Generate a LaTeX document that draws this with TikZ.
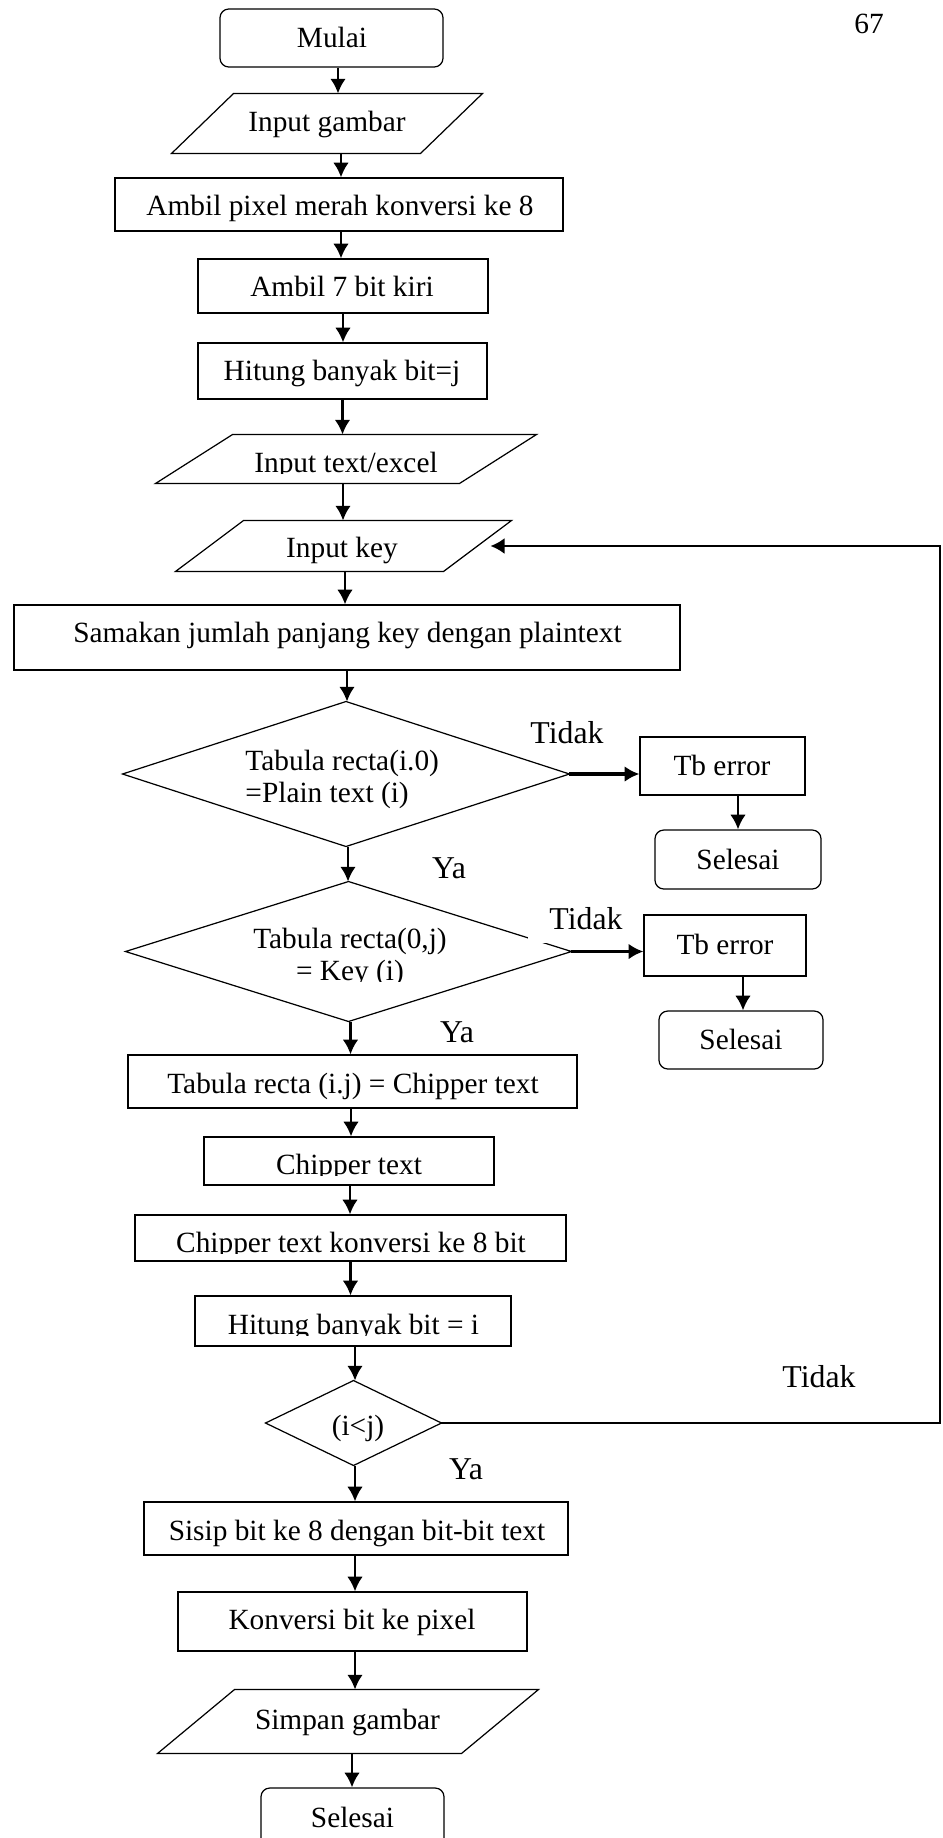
\documentclass[tikz,border=0pt]{standalone}
\usepackage{fontspec}
\setmainfont{Liberation Serif}
\usetikzlibrary{fit,calc,arrows.meta}

% vertical connector from the bottom of #2 (shifted by #1) down to the top of #3
\newcommand\vlink[3][0]{\draw[arr] ($(#2.south)+(#1,0)$) coordinate (vl) -- (vl |- #3.north);}

\begin{document}
\begin{tikzpicture}[x={(0.409pt,0)}, y={(0,-0.409pt)},
  box/.style={draw, line width=0.5pt, inner sep=0pt},
  term/.style={box, rounded corners=3.6pt},
  hull/.style={inner sep=0pt},
  outline/.style={draw, line width=0.5pt, line join=miter},
  txt/.style={inner sep=0pt, anchor=base, font=\fontsize{12}{14}\selectfont},
  lbl/.style={inner sep=0pt, anchor=base, font=\fontsize{13}{15}\selectfont},
  arr/.style={line width=1.1pt, -{Latex[length=6pt,width=6.4pt]}},
  arrb/.style={line width=1.5pt, -{Latex[length=6pt,width=6.4pt]}},
  back/.style={line width=0.9pt, -{Latex[length=5.8pt,width=6.6pt]}},
]
\fill[white] (0,0) rectangle (942,1838);
\useasboundingbox (0,0) rectangle (942,1838);

% page number
\node[txt] (t67) at (869,33) {67};

% ---------- main column ----------
\node[term, fit={(220,9) (443,67)}] (mulai) {};
\node[txt] (tmulai) at (332,47) {Mulai};

\node[hull, fit={(172,94) (482,153)}] (ig) {};
\draw[outline] ($(ig.north west)+(62,0)$) -- (ig.north east) -- ($(ig.south east)-(62,0)$) -- (ig.south west) -- cycle;
\node[txt] (tig) at (327,131) {Input gambar};

\node[box, fit={(115,178) (563,231)}] (apm) {};
\node[txt] (tapm) at (340,215) {Ambil pixel merah konversi ke 8};

\node[box, fit={(198,259) (488,313)}] (a7) {};
\node[txt] (ta7) at (342,296) {Ambil 7 bit kiri};

\node[box, fit={(198,343) (487,399)}] (hj) {};
\node[txt] (thj) at (342,380) {Hitung banyak bit=j};

\node[hull, fit={(156,435) (536,483)}] (it) {};
\draw[outline] ($(it.north west)+(77,0)$) -- (it.north east) -- ($(it.south east)-(77,0)$) -- (it.south west) -- cycle;
\begin{scope}
  \clip (156,430) rectangle (536,473);
  \node[txt] (tit) at (346,472) {Input text/excel};
\end{scope}

\node[hull, fit={(176,521) (511,571)}] (ik) {};
\draw[outline] ($(ik.north west)+(68,0)$) -- (ik.north east) -- ($(ik.south east)-(68,0)$) -- (ik.south west) -- cycle;
\node[txt] (tik) at (342,557) {Input key};

\node[box, fit={(14,605) (680,670)}] (sam) {};
\node[txt] (tsam) at (347.5,642) {Samakan jumlah panjang key dengan plaintext};

% first decision
\node[hull, fit={(123,702) (569,846)}] (d1) {};
\draw[outline] (d1.north) -- (d1.east) -- (d1.south) -- (d1.west) -- cycle;
\node[txt, anchor=base west] (td1a) at (245,770) {Tabula recta(i.0)};
\node[txt, anchor=base west] (td1b) at (245,802) {=Plain text (i)};
\node[lbl] (tdk1) at (567,743) {Tidak};
\node[lbl] (ya1) at (449,878) {Ya};

\node[box, fit={(640,737) (805,795)}] (tb1) {};
\node[txt] (ttb1) at (722,775) {Tb error};
\node[term, fit={(655,830) (821,889)}] (sl1) {};
\node[txt] (tsl1) at (738,869) {Selesai};

% second decision
\node[hull, fit={(126,882) (571,1021)}] (d2) {};
\draw[outline] (d2.north) -- (d2.east) -- (d2.south) -- (d2.west) -- cycle;
\node[txt] (td2a) at (350,948) {Tabula recta(0,j)};
\begin{scope}
  \clip (200,955) rectangle (500,981);
  \node[txt] (td2b) at (350,980) {= Key (i)};
\end{scope}
\node[lbl, fill=white, inner xsep=8.6pt, inner ysep=5.7pt] (tdk2) at (586,929) {Tidak};
\node[lbl] (ya2) at (457,1042) {Ya};

\node[box, fit={(644,915) (806,976)}] (tb2) {};
\node[txt] (ttb2) at (725,954) {Tb error};
\node[term, fit={(659,1011) (823,1069)}] (sl2) {};
\node[txt] (tsl2) at (741,1049) {Selesai};

% encryption steps
\node[box, fit={(128,1055) (577,1108)}] (tij) {};
\node[txt] (ttij) at (353,1093) {Tabula recta (i.j) = Chipper text};

\node[box, fit={(204,1137) (494,1185)}] (cp) {};
\begin{scope}
  \clip (204,1137) rectangle (494,1175);
  \node[txt] (tcp) at (349,1174) {Chipper text};
\end{scope}

\node[box, fit={(135,1215) (566,1261)}] (cpk) {};
\begin{scope}
  \clip (135,1215) rectangle (566,1253);
  \node[txt] (tcpk) at (351,1252) {Chipper text konversi ke 8 bit};
\end{scope}

\node[box, fit={(195,1296) (511,1346)}] (hi) {};
\begin{scope}
  \clip (195,1296) rectangle (511,1335);
  \node[txt] (thi) at (353.5,1334) {Hitung banyak bit = i};
\end{scope}

% loop decision
\node[hull, fit={(266,1381) (441,1465)}] (d3) {};
\draw[outline] (d3.north) -- (d3.east) -- (d3.south) -- (d3.west) -- cycle;
\node[txt] (td3) at (358,1435) {(i<j)};
\node[lbl] (tdk3) at (819,1387) {Tidak};
\node[lbl] (ya3) at (466,1479) {Ya};

\node[box, fit={(144,1502) (568,1555)}] (ss) {};
\node[txt] (tss) at (357,1540) {Sisip bit ke 8 dengan bit-bit text};

\node[box, fit={(178,1592) (527,1651)}] (kv) {};
\node[txt] (tkv) at (352,1629) {Konversi bit ke pixel};

\node[hull, fit={(158,1690) (538,1753)}] (sg) {};
\draw[outline] ($(sg.north west)+(77,0)$) -- (sg.north east) -- ($(sg.south east)-(77,0)$) -- (sg.south west) -- cycle;
\node[txt] (tsg) at (347.5,1729) {Simpan gambar};

\node[term, fit={(261,1788) (444,1852)}] (fin) {};
\node[txt] (tfin) at (352.5,1827) {Selesai};

% ---------- connectors ----------
\vlink[6.5]{mulai}{ig}
\vlink[14]{ig}{apm}
\vlink[2]{apm}{a7}
\vlink{a7}{hj}
\vlink{hj}{it}
\vlink[-3]{it}{ik}
\vlink[1.5]{ik}{sam}
\vlink{sam}{d1}
\vlink[2]{d1}{d2}
\vlink[15.5]{tb1}{sl1}
\vlink[18]{tb2}{sl2}
\vlink[2]{d2}{tij}
\vlink[-1.5]{tij}{cp}
\vlink[1]{cp}{cpk}
\vlink{cpk}{hi}
\vlink[2]{hi}{d3}
\vlink[1.5]{d3}{ss}
\vlink[-1]{ss}{kv}
\vlink[2.5]{kv}{sg}
\vlink[4]{sg}{fin}

\draw[arrb] (d1.east) -- (d1.east -| tb1.west);
\draw[arrb] (d2.east) -- (d2.east -| tb2.west);

% return path from the loop test back to the key input
\coordinate (loopx) at (940,0);
\draw[back] (d3.east) -- (d3.east -| loopx) |- ($(ik.east)+(-21,0)$);
\end{tikzpicture}
\end{document}
